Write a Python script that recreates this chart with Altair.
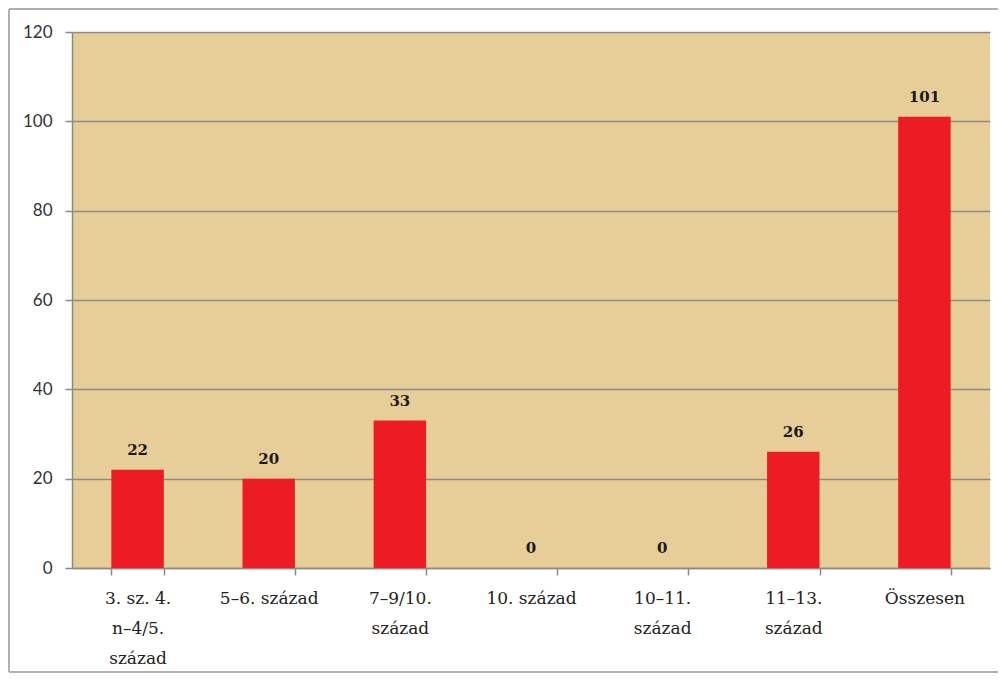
import altair as alt
import pandas as pd

categories = ["3. sz. 4.|n–4/5.|század", "5–6. század", "7–9/10.|század", "10. század",
              "10–11.|század", "11–13.|század", "Összesen"]
values = [22, 20, 33, 0, 0, 26, 101]
y_ticks = [0, 20, 40, 60, 80, 100, 120]

df = pd.DataFrame({"cat": categories, "val": values})

W, H = 918, 536

x_enc = alt.X("cat:N", sort=categories, title=None,
              scale=alt.Scale(paddingInner=0.6, paddingOuter=0.3),
              axis=alt.Axis(labelExpr="split(datum.label, '|')", labelAngle=0,
                            labelFont="DejaVu Serif", labelFontSize=17,
                            labelColor="#222222", labelLineHeight=30,
                            labelPadding=15, tickBand="extent", tickSize=7,
                            tickColor="#8a8a8a", tickWidth=1.5,
                            domainColor="#8a8a8a", domainWidth=1.5, grid=False,
                            labelBaseline="top"))
y_enc = alt.Y("val:Q", title=None,
              scale=alt.Scale(domain=[0, 120], nice=False),
              axis=alt.Axis(values=y_ticks, labelFont="Lato", labelFontSize=17,
                            labelColor="#333333", labelPadding=13, tickSize=7,
                            tickColor="#8a8a8a", tickWidth=1.5,
                            domainColor="#8a8a8a", domainWidth=1.5,
                            grid=True, gridColor="#8a8a8a", gridWidth=1.5))

bars = alt.Chart(df).mark_bar(color="#ED1C24").encode(x=x_enc, y=y_enc)

labels = alt.Chart(df).mark_text(font="DejaVu Serif", fontSize=15,
                                 fontWeight="bold", color="#1a1a1a",
                                 baseline="alphabetic", dy=-15).encode(
    x=alt.X("cat:N", sort=categories), y="val:Q", text="val:Q")

frame_top = alt.Chart(df).mark_rule(stroke="#b0b0b0", strokeWidth=1.5, clip=False).encode(
    x=alt.value(-63), x2=alt.value(W + 8), y=alt.value(-23))
frame_bottom = alt.Chart(df).mark_rule(stroke="#b0b0b0", strokeWidth=1.5, clip=False).encode(
    x=alt.value(-63), x2=alt.value(W + 8), y=alt.value(H + 104))
frame_left = alt.Chart(df).mark_rect(fill="#b0b0b0", strokeWidth=0, clip=False).encode(
    x=alt.value(-64), x2=alt.value(-62.5), y=alt.value(-23), y2=alt.value(H + 104))

chart = alt.layer(bars, labels, frame_top, frame_bottom, frame_left).properties(
    width=W, height=H,
    padding={"left": 64, "top": 24, "right": 8, "bottom": 106},
    autosize=alt.AutoSizeParams(type="none"),
    background="white",
).configure_view(fill="#E7CE98", strokeWidth=0, stroke="transparent")

chart.save("out.html", embed_options={"renderer": "svg", "actions": False})
